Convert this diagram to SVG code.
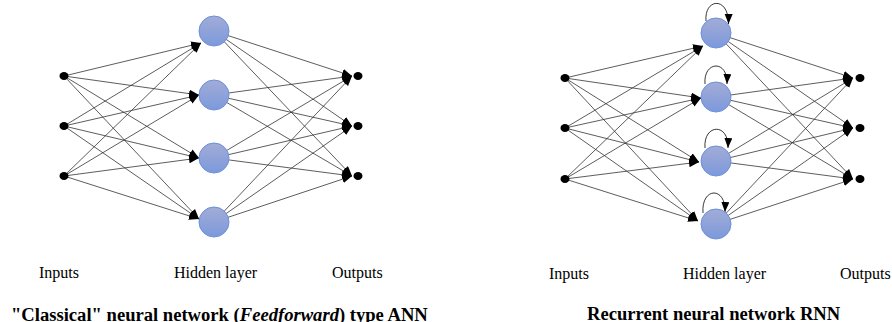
<svg xmlns="http://www.w3.org/2000/svg" width="892" height="322" viewBox="0 0 892 322">
  <style>
    .edge { stroke: #333; stroke-width: 0.8; fill: none; marker-end: url(#arrow); }
    .loop { stroke: #222; stroke-width: 0.9; fill: none; marker-end: url(#arrow); }
    .neuron { fill: url(#neuronFill); stroke: #6b90dc; stroke-width: 1; }
    .dot { fill: #000; }
    .label { font-family: "Liberation Serif", "Times New Roman", serif; font-size: 16px; fill: #000; }
    .title { font-family: "Liberation Serif", "Times New Roman", serif; font-size: 18.6px; font-weight: bold; fill: #000; }
  </style>
  <defs>
    <linearGradient id="neuronFill" x1="0" y1="0" x2="0" y2="1">
      <stop offset="0" stop-color="#a2acd6"/>
      <stop offset="1" stop-color="#7c99dc"/>
    </linearGradient>
    <marker id="arrow" markerUnits="userSpaceOnUse" markerWidth="11" markerHeight="9" refX="10" refY="4" orient="auto">
      <path d="M0,0 L10,4 L0,8 z" fill="#000"/>
    </marker>
  </defs>
  <rect width="892" height="322" fill="#fff"/>

  <!-- Feedforward network: connectors -->
  <g id="ff-connectors">
    <line class="edge" x1="64" y1="76" x2="201" y2="43"/>
    <line class="edge" x1="64" y1="76" x2="199" y2="95"/>
    <line class="edge" x1="64" y1="76" x2="199" y2="158"/>
    <line class="edge" x1="64" y1="76" x2="199" y2="219"/>
    <line class="edge" x1="64" y1="126" x2="201" y2="43"/>
    <line class="edge" x1="64" y1="126" x2="199" y2="95"/>
    <line class="edge" x1="64" y1="126" x2="199" y2="158"/>
    <line class="edge" x1="64" y1="126" x2="199" y2="219"/>
    <line class="edge" x1="64" y1="176" x2="201" y2="43"/>
    <line class="edge" x1="64" y1="176" x2="199" y2="95"/>
    <line class="edge" x1="64" y1="176" x2="199" y2="158"/>
    <line class="edge" x1="64" y1="176" x2="199" y2="219"/>

    <line class="edge" x1="214" y1="31" x2="352" y2="76"/>
    <line class="edge" x1="214" y1="31" x2="352" y2="126"/>
    <line class="edge" x1="214" y1="31" x2="352" y2="176"/>
    <line class="edge" x1="214" y1="95" x2="352" y2="76"/>
    <line class="edge" x1="214" y1="95" x2="352" y2="126"/>
    <line class="edge" x1="214" y1="95" x2="352" y2="176"/>
    <line class="edge" x1="214" y1="158" x2="352" y2="76"/>
    <line class="edge" x1="214" y1="158" x2="352" y2="126"/>
    <line class="edge" x1="214" y1="158" x2="352" y2="176"/>
    <line class="edge" x1="214" y1="222" x2="352" y2="76"/>
    <line class="edge" x1="214" y1="222" x2="352" y2="126"/>
    <line class="edge" x1="214" y1="222" x2="352" y2="176"/>
  </g>

  <!-- Feedforward network: nodes -->
  <g id="ff-in-1"><ellipse class="dot" cx="64" cy="76" rx="4.5" ry="4"/></g>
  <g id="ff-in-2"><ellipse class="dot" cx="64" cy="126" rx="4.5" ry="4"/></g>
  <g id="ff-in-3"><ellipse class="dot" cx="64" cy="176" rx="4.5" ry="4"/></g>
  <g id="ff-hid-1"><circle class="neuron" cx="214" cy="31" r="15"/></g>
  <g id="ff-hid-2"><circle class="neuron" cx="214" cy="95" r="15"/></g>
  <g id="ff-hid-3"><circle class="neuron" cx="214" cy="158" r="15"/></g>
  <g id="ff-hid-4"><circle class="neuron" cx="214" cy="222" r="15"/></g>
  <g id="ff-out-1"><ellipse class="dot" cx="358" cy="76" rx="4.5" ry="4"/></g>
  <g id="ff-out-2"><ellipse class="dot" cx="358" cy="126" rx="4.5" ry="4"/></g>
  <g id="ff-out-3"><ellipse class="dot" cx="358" cy="176" rx="4.5" ry="4"/></g>

  <!-- Recurrent network: connectors -->
  <g id="rnn-connectors">
    <line class="edge" x1="565" y1="78" x2="703" y2="46"/>
    <line class="edge" x1="565" y1="78" x2="701" y2="98"/>
    <line class="edge" x1="565" y1="78" x2="699" y2="162"/>
    <line class="edge" x1="565" y1="78" x2="698" y2="221"/>
    <line class="edge" x1="565" y1="128" x2="703" y2="46"/>
    <line class="edge" x1="565" y1="128" x2="701" y2="98"/>
    <line class="edge" x1="565" y1="128" x2="699" y2="162"/>
    <line class="edge" x1="565" y1="128" x2="698" y2="221"/>
    <line class="edge" x1="565" y1="179" x2="703" y2="46"/>
    <line class="edge" x1="565" y1="179" x2="701" y2="98"/>
    <line class="edge" x1="565" y1="179" x2="699" y2="162"/>
    <line class="edge" x1="565" y1="179" x2="698" y2="221"/>

    <line class="edge" x1="716" y1="33" x2="853" y2="78"/>
    <line class="edge" x1="716" y1="33" x2="853" y2="128"/>
    <line class="edge" x1="716" y1="33" x2="853" y2="179"/>
    <line class="edge" x1="716" y1="97" x2="853" y2="78"/>
    <line class="edge" x1="716" y1="97" x2="853" y2="128"/>
    <line class="edge" x1="716" y1="97" x2="853" y2="179"/>
    <line class="edge" x1="716" y1="161" x2="853" y2="78"/>
    <line class="edge" x1="716" y1="161" x2="853" y2="128"/>
    <line class="edge" x1="716" y1="161" x2="853" y2="179"/>
    <line class="edge" x1="716" y1="224" x2="853" y2="78"/>
    <line class="edge" x1="716" y1="224" x2="853" y2="128"/>
    <line class="edge" x1="716" y1="224" x2="853" y2="179"/>

    <!-- self-loops on the hidden units -->
    <path class="loop" d="M706,21 C704,-2 729,-4 728.5,24"/>
    <path class="loop" d="M705,84 C703,61 728,59 727,84"/>
    <path class="loop" d="M705,148 C703,124 729,122 728,148"/>
    <path class="loop" d="M703,213 C701,187 726,186 725,212"/>
  </g>

  <!-- Recurrent network: nodes -->
  <g id="rnn-in-1"><ellipse class="dot" cx="565" cy="78" rx="4.5" ry="4"/></g>
  <g id="rnn-in-2"><ellipse class="dot" cx="565" cy="128" rx="4.5" ry="4"/></g>
  <g id="rnn-in-3"><ellipse class="dot" cx="565" cy="179" rx="4.5" ry="4"/></g>
  <g id="rnn-hid-1"><circle class="neuron" cx="716" cy="33" r="15"/></g>
  <g id="rnn-hid-2"><circle class="neuron" cx="716" cy="97" r="15"/></g>
  <g id="rnn-hid-3"><circle class="neuron" cx="716" cy="161" r="15"/></g>
  <g id="rnn-hid-4"><circle class="neuron" cx="716" cy="224" r="15"/></g>
  <g id="rnn-out-1"><ellipse class="dot" cx="860" cy="78" rx="4.5" ry="4"/></g>
  <g id="rnn-out-2"><ellipse class="dot" cx="860" cy="128" rx="4.5" ry="4"/></g>
  <g id="rnn-out-3"><ellipse class="dot" cx="860" cy="179" rx="4.5" ry="4"/></g>

  <!-- Layer labels -->
  <g id="labels">
    <text class="label" x="39" y="278">Inputs</text>
    <text class="label" x="174" y="278">Hidden layer</text>
    <text class="label" x="332" y="278">Outputs</text>
    <text class="label" x="549" y="279">Inputs</text>
    <text class="label" x="683" y="279">Hidden layer</text>
    <text class="label" x="840" y="279">Outputs</text>
  </g>

  <!-- Captions -->
  <g id="captions">
    <text class="title" x="11" y="321">"Classical" neural network (<tspan font-style="italic">Feedforward</tspan>) type ANN</text>
    <text class="title" x="587" y="320">Recurrent neural network RNN</text>
  </g>
</svg>
